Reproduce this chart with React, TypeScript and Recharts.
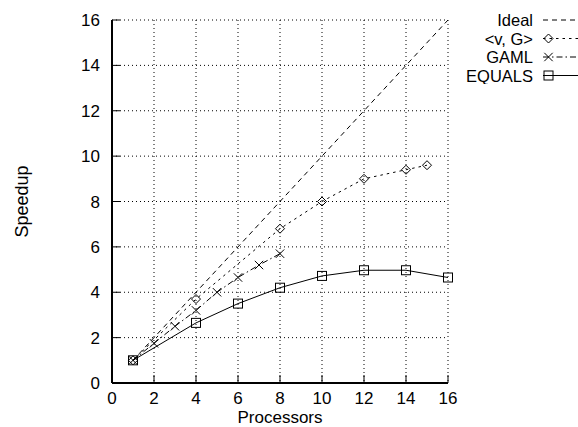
import React from "react";
import { LineChart, Line, XAxis, YAxis, CartesianGrid, Legend } from "recharts";

// ── Data ──────────────────────────────────────────────────────────────────────

const idealX = [1, 16];
const idealY = [1, 16];

const vgX = [1, 4, 8, 10, 12, 14, 15];
const vgY = [1, 3.7, 6.8, 8.0, 9.0, 9.4, 9.6];

const gamlX = [1, 2, 3, 4, 5, 6, 7, 8];
const gamlY = [1, 1.75, 2.5, 3.2, 4.0, 4.65, 5.2, 5.7];

const equalsX = [1, 4, 6, 8, 10, 12, 14, 16];
const equalsY = [1, 2.65, 3.5, 4.2, 4.72, 4.97, 4.97, 4.65];

const xTicks = [0, 2, 4, 6, 8, 10, 12, 14, 16];
const yTicks = [0, 2, 4, 6, 8, 10, 12, 14, 16];

const toPoints = (xs: number[], ys: number[]) => xs.map((x, i) => ({ x, y: ys[i] }));

// ── Styles ────────────────────────────────────────────────────────────────────

const FONT = "'Liberation Sans', Arial, Helvetica, sans-serif";
const INK = "#000";

type MarkerKind = "none" | "diamond" | "cross" | "square";

const series = [
  { name: "Ideal", data: toPoints(idealX, idealY), dash: "5 4", marker: "none" as MarkerKind },
  { name: "<v, G>", data: toPoints(vgX, vgY), dash: "2.5 4", marker: "diamond" as MarkerKind },
  { name: "GAML", data: toPoints(gamlX, gamlY), dash: "6 3 1.5 3", marker: "cross" as MarkerKind },
  { name: "EQUALS", data: toPoints(equalsX, equalsY), dash: undefined, marker: "square" as MarkerKind },
];

function Marker({ kind, cx, cy }: { kind: MarkerKind; cx: number; cy: number }) {
  if (cx == null || cy == null) return null;
  if (kind === "diamond") {
    const r = 4.5;
    return (
      <path
        d={`M${cx},${cy - r}L${cx + r},${cy}L${cx},${cy + r}L${cx - r},${cy}Z`}
        fill="none"
        stroke={INK}
      />
    );
  }
  if (kind === "cross") {
    const r = 4.2;
    return (
      <path
        d={`M${cx - r},${cy - r}L${cx + r},${cy + r}M${cx - r},${cy + r}L${cx + r},${cy - r}`}
        stroke={INK}
      />
    );
  }
  if (kind === "square") {
    const r = 4.5;
    return <rect x={cx - r} y={cy - r} width={r * 2} height={r * 2} fill="none" stroke={INK} />;
  }
  return null;
}

// ── Legend (gnuplot style: label right-aligned, sample to the right) ─────────

function KeyBox() {
  const rowY = [20, 38.5, 57, 75.5];
  return (
    <svg width={138} height={84} style={{ display: "block", overflow: "hidden" }}>
      {series.map((s, i) => (
        <g key={s.name}>
          <text
            x={93}
            y={rowY[i] + 6}
            textAnchor="end"
            fontSize={16.5}
            fontFamily={FONT}
            fill={INK}
          >
            {s.name}
          </text>
          <line x1={103} x2={150} y1={rowY[i]} y2={rowY[i]} stroke={INK} strokeDasharray={s.dash} />
          <Marker kind={s.marker} cx={108.5} cy={rowY[i]} />
        </g>
      ))}
    </svg>
  );
}

// ── Axis labels ───────────────────────────────────────────────────────────────

function SpeedupLabel({ viewBox }: { viewBox?: { x: number; y: number; width: number; height: number } }) {
  if (!viewBox) return null;
  const x = 22;
  const y = viewBox.y + viewBox.height / 2;
  return (
    <text
      x={x}
      y={y}
      transform={`rotate(-90 ${x} ${y})`}
      textAnchor="middle"
      dominantBaseline="central"
      fontSize={18}
      fontFamily={FONT}
      fill={INK}
    >
      Speedup
    </text>
  );
}

// ── Chart ─────────────────────────────────────────────────────────────────────

export default function App() {
  const tickStyle = { fill: INK, fontSize: 17, fontFamily: FONT };

  return (
    <div style={{ position: "absolute", left: 0, top: 0, background: "#fff" }}>
      <LineChart
        width={578}
        height={427}
        margin={{ top: 20, right: 130, bottom: 0, left: 0 }}
        style={{ fontFamily: FONT }}
      >
        <CartesianGrid stroke={INK} strokeDasharray="1 3" strokeWidth={1} />

        <XAxis
          dataKey="x"
          type="number"
          domain={[0, 16]}
          ticks={xTicks}
          height={44}
          tickSize={-8}
          tickMargin={17}
          axisLine={{ stroke: INK, strokeWidth: 2 }}
          tickLine={{ stroke: INK }}
          tick={tickStyle}
          label={{ value: "Processors", position: "insideBottom", offset: 4, fill: INK, fontSize: 17 }}
        />
        <XAxis
          xAxisId="top"
          orientation="top"
          type="number"
          domain={[0, 16]}
          ticks={xTicks}
          height={0}
          tickSize={-8}
          allowDataOverflow
          axisLine={{ stroke: INK, strokeWidth: 2 }}
          tickLine={{ stroke: INK }}
          tick={false}
        />
        <YAxis
          type="number"
          domain={[0, 16]}
          ticks={yTicks}
          width={112}
          tickSize={-8}
          tickMargin={20}
          axisLine={{ stroke: INK, strokeWidth: 2 }}
          tickLine={{ stroke: INK }}
          tick={tickStyle}
          label={<SpeedupLabel />}
        />
        <YAxis
          yAxisId="right"
          orientation="right"
          type="number"
          domain={[0, 16]}
          ticks={yTicks}
          width={0}
          tickSize={-8}
          allowDataOverflow
          axisLine={{ stroke: INK, strokeWidth: 2 }}
          tickLine={{ stroke: INK }}
          tick={false}
        />

        <Legend
          layout="horizontal"
          verticalAlign="middle"
          align="center"
          wrapperStyle={{ left: 440, top: 0, width: 138 }}
          content={() => <KeyBox />}
        />

        {series.map((s) => (
          <Line
            key={s.name}
            name={s.name}
            data={s.data}
            dataKey="y"
            type="linear"
            stroke={INK}
            strokeWidth={1}
            strokeDasharray={s.dash}
            dot={(p: any) => <Marker key={`${s.name}-${p.index}`} kind={s.marker} cx={p.cx} cy={p.cy} />}
            activeDot={false}
            isAnimationActive={false}
          />
        ))}
      </LineChart>
    </div>
  );
}
